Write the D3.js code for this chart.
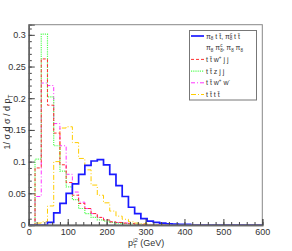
<!DOCTYPE html>
<html>
<head>
<meta charset="utf-8">
<script src="https://d3js.org/d3.v7.min.js"></script>
<style>
  body { margin: 0; background: #fff; }
  svg { font-family: "Liberation Sans", Arial, sans-serif; }
</style>
</head>
<body>
<div id="chart"></div>
<script>
// histograms, 16 GeV bins starting at 0 (normalised to unit area)
const binWidth = 16;
const sigPi8 = [0, 0, 0, 0.004, 0.019, 0.034, 0.050, 0.065, 0.080, 0.094, 0.101, 0.103, 0.095, 0.080, 0.062, 0.045, 0.028, 0.018, 0.010, 0.006, 0.004, 0.003, 0.002, 0.0015, 0.001, 0.001];
const ttwjj  = [0, 0.090, 0.262, 0.189, 0.145, 0.095, 0.067, 0.047, 0.034, 0.026, 0.018, 0.012, 0.008, 0.005, 0.004, 0.003, 0.002, 0.001, 0.001];
const ttzjj  = [0, 0.104, 0.301, 0.202, 0.125, 0.085, 0.060, 0.040, 0.026, 0.018, 0.012, 0.008, 0.006, 0.004, 0.003, 0.002, 0.002, 0.001];
const ttww   = [0, 0.045, 0.224, 0.220, 0.160, 0.125, 0.080, 0.052, 0.036, 0.026, 0.018, 0.012, 0.008, 0.005, 0.004, 0.003, 0.002, 0.001];
const tttt   = [0, 0.003, 0.005, 0.030, 0.100, 0.153, 0.155, 0.130, 0.105, 0.087, 0.063, 0.047, 0.035, 0.022, 0.014, 0.009, 0.005, 0.003, 0.002, 0.001];

const xTicks = [0, 100, 200, 300, 400, 500, 600];
const yTicks = [0, 0.05, 0.1, 0.15, 0.2, 0.25, 0.3];

const series = [
  { values: sigPi8, color: "#1a1aff", width: 1.7, dash: null },
  { values: ttwjj,  color: "#ff3030", width: 1,   dash: "3,2" },
  { values: ttzjj,  color: "#55ff55", width: 1.2, dash: "1.2,1" },
  { values: ttww,   color: "#ff33ff", width: 1,   dash: "4,2,1,2" },
  { values: tttt,   color: "#ffcc00", width: 1,   dash: "5,2,1,2" }
];

const W = 292, H = 251;
const svg = d3.select("#chart").append("svg").attr("width", W).attr("height", H);

const x = d3.scaleLinear().domain([0, 600]).range([28.8, 262.3]);
const y = d3.scaleLinear().domain([0, 0.316]).range([225, 24.7]);

svg.append("clipPath").attr("id", "clip")
  .append("rect").attr("x", x(0)).attr("y", y(0.316)).attr("width", x(600) - x(0)).attr("height", y(0) - y(0.316));

// histograms as step outlines
const line = d3.line().x(d => x(d[0])).y(d => y(d[1]));
function steps(vals) {
  let pts = [[0, 0]];
  vals.forEach((v, k) => { pts.push([k * binWidth, v]); pts.push([(k + 1) * binWidth, v]); });
  pts.push([vals.length * binWidth, 0]);
  pts.push([600, 0]);
  return pts;
}
const g = svg.append("g").attr("clip-path", "url(#clip)");
series.slice().reverse().forEach(s => {
  g.append("path").attr("d", line(steps(s.values)))
    .attr("fill", "none").attr("stroke", s.color).attr("stroke-width", s.width)
    .attr("stroke-dasharray", s.dash);
});

// frame
svg.append("rect").attr("x", x(0)).attr("y", y(0.316)).attr("width", x(600) - x(0)).attr("height", y(0) - y(0.316))
  .attr("fill", "none").attr("stroke", "#888").attr("stroke-width", 1);

// axes
const yMinor = svg.append("g").attr("transform", `translate(${x(0)},0)`)
  .call(d3.axisLeft(y).tickValues(d3.range(0, 0.316, 0.01)).tickSize(-3).tickFormat(""));
const yAx = svg.append("g").attr("transform", `translate(${x(0)},0)`)
  .call(d3.axisLeft(y).tickValues(yTicks).tickSize(-6).tickPadding(3).tickFormat(d => d3.format("~g")(d)));
const xMinor = svg.append("g").attr("transform", `translate(0,${y(0)})`)
  .call(d3.axisBottom(x).tickValues(d3.range(0, 601, 20)).tickSize(-3).tickFormat(""));
const xAx = svg.append("g").attr("transform", `translate(0,${y(0)})`)
  .call(d3.axisBottom(x).tickValues(xTicks).tickSize(-6).tickPadding(4));
[yMinor, yAx, xMinor, xAx].forEach(a => {
  a.select(".domain").attr("stroke", "#666").attr("stroke-width", 1.3);
  a.selectAll(".tick line").attr("stroke", "#444");
  a.selectAll("text").attr("font-size", 9).attr("fill", "#333").attr("font-family", "Liberation Sans, Arial, sans-serif");
});

// axis titles
const yt = svg.append("text").attr("transform", "translate(10,122) rotate(-90)")
  .attr("text-anchor", "middle").attr("font-size", 9).attr("fill", "#333");
yt.append("tspan").text("1/ σ d σ / d p");
yt.append("tspan").attr("font-size", 6.5).attr("dy", 2.5).text("T");

const xt = svg.append("text").attr("x", 128).attr("y", 246).attr("font-size", 9).attr("fill", "#333");
xt.append("tspan").text("p");
xt.append("tspan").attr("font-size", 6).attr("dy", 2).text("T");
xt.append("tspan").attr("font-size", 6).attr("dx", -3.5).attr("dy", -6).text("j2");
xt.append("tspan").attr("dy", 4).text(" (GeV)");

// legend
const lg = svg.append("g");
lg.append("rect").attr("x", 189.5).attr("y", 30.5).attr("width", 67).attr("height", 69.5)
  .attr("fill", "#fff").attr("stroke", "#777").attr("stroke-width", 1);
const tb = "t\u0304";
const legendRows = [
  { s: 0, parts: [["π"], ["8", "sub"], [" t " + tb + ", π"], ["8", "sub"], ["c", "supb"], [" t " + tb]] },
  { s: -1, parts: [["π"], ["8", "sub"], [" π"], ["8", "sub"], ["c", "supb"], [", π"], ["8", "sub"], [" π"], ["8", "sub"]] },
  { s: 1, parts: [["t " + tb + " w"], ["+", "sup"], [" j j"]] },
  { s: 2, parts: [["t " + tb + " z j j"]] },
  { s: 3, parts: [["t " + tb + " w"], ["+", "sup"], [" w"], ["-", "sup"]] },
  { s: 4, parts: [["t " + tb + " t " + tb]] }
];
legendRows.forEach((r, i) => {
  const cy = 36 + i * 11.7;
  if (r.s >= 0) {
    const s = series[r.s];
    lg.append("line").attr("x1", 191).attr("x2", 204).attr("y1", cy).attr("y2", cy)
      .attr("stroke", s.color).attr("stroke-width", s.width).attr("stroke-dasharray", s.dash);
  }
  const t = lg.append("text").attr("x", 206).attr("y", cy + 2.5).attr("font-size", 7).attr("fill", "#333");
  let shift = 0;
  r.parts.forEach(p => {
    const ts = t.append("tspan").text(p[0]);
    let target = 0;
    if (p[1] === "sub") { ts.attr("font-size", 4.5); target = 1.5; }
    else if (p[1] === "sup") { ts.attr("font-size", 4.5); target = -3; }
    else if (p[1] === "supb") { ts.attr("font-size", 4.5).attr("dx", -2.5); target = -3; }
    ts.attr("dy", target - shift);
    shift = target;
  });
});
</script>
</body>
</html>
